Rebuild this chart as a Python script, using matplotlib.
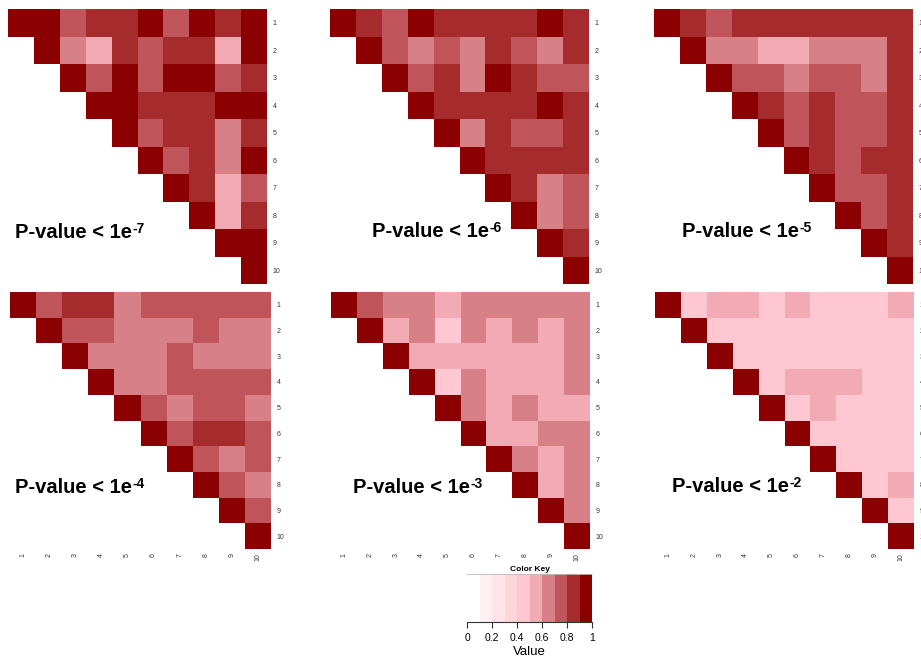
import numpy as np
import matplotlib
matplotlib.use('Agg')
import matplotlib.pyplot as plt
from matplotlib.colors import ListedColormap, BoundaryNorm

plt.rcParams['font.family'] = 'Liberation Sans'

W, H = 921, 658

# pairwise values, upper triangle, row i holds columns i..10
p7 = [[1.0, 0.95, 0.75, 0.85, 0.85, 0.95, 0.75, 0.95, 0.85, 0.95],
      [1.0, 0.65, 0.55, 0.85, 0.75, 0.85, 0.85, 0.55, 0.95],
      [1.0, 0.75, 0.95, 0.75, 0.95, 0.95, 0.75, 0.85],
      [1.0, 0.95, 0.85, 0.85, 0.85, 0.95, 0.95],
      [1.0, 0.75, 0.85, 0.85, 0.65, 0.85],
      [1.0, 0.75, 0.85, 0.65, 0.95],
      [1.0, 0.85, 0.55, 0.75],
      [1.0, 0.55, 0.85],
      [1.0, 0.95],
      [1.0]]

p6 = [[1.0, 0.85, 0.75, 0.95, 0.85, 0.85, 0.85, 0.85, 0.95, 0.85],
      [1.0, 0.75, 0.65, 0.75, 0.65, 0.85, 0.75, 0.65, 0.85],
      [1.0, 0.75, 0.85, 0.65, 0.95, 0.85, 0.75, 0.75],
      [1.0, 0.85, 0.85, 0.85, 0.85, 0.95, 0.85],
      [1.0, 0.65, 0.85, 0.75, 0.75, 0.85],
      [1.0, 0.85, 0.85, 0.85, 0.85],
      [1.0, 0.85, 0.65, 0.75],
      [1.0, 0.65, 0.75],
      [1.0, 0.85],
      [1.0]]

p5 = [[1.0, 0.85, 0.75, 0.85, 0.85, 0.85, 0.85, 0.85, 0.85, 0.85],
      [1.0, 0.65, 0.65, 0.55, 0.55, 0.65, 0.65, 0.65, 0.85],
      [1.0, 0.75, 0.75, 0.65, 0.75, 0.75, 0.65, 0.85],
      [1.0, 0.85, 0.75, 0.85, 0.75, 0.75, 0.85],
      [1.0, 0.75, 0.85, 0.75, 0.75, 0.85],
      [1.0, 0.85, 0.75, 0.85, 0.85],
      [1.0, 0.75, 0.75, 0.85],
      [1.0, 0.75, 0.85],
      [1.0, 0.85],
      [1.0]]

p4 = [[1.0, 0.75, 0.85, 0.85, 0.65, 0.75, 0.75, 0.75, 0.75, 0.75],
      [1.0, 0.75, 0.75, 0.65, 0.65, 0.65, 0.75, 0.65, 0.65],
      [1.0, 0.65, 0.65, 0.65, 0.75, 0.65, 0.65, 0.65],
      [1.0, 0.65, 0.65, 0.75, 0.75, 0.75, 0.75],
      [1.0, 0.75, 0.65, 0.75, 0.75, 0.65],
      [1.0, 0.75, 0.85, 0.85, 0.75],
      [1.0, 0.75, 0.65, 0.75],
      [1.0, 0.75, 0.65],
      [1.0, 0.75],
      [1.0]]

p3 = [[1.0, 0.75, 0.65, 0.65, 0.55, 0.65, 0.65, 0.65, 0.65, 0.65],
      [1.0, 0.55, 0.65, 0.45, 0.65, 0.55, 0.65, 0.55, 0.65],
      [1.0, 0.55, 0.55, 0.55, 0.55, 0.55, 0.55, 0.65],
      [1.0, 0.45, 0.65, 0.55, 0.55, 0.55, 0.65],
      [1.0, 0.65, 0.55, 0.65, 0.55, 0.55],
      [1.0, 0.55, 0.55, 0.65, 0.65],
      [1.0, 0.65, 0.55, 0.65],
      [1.0, 0.55, 0.65],
      [1.0, 0.65],
      [1.0]]

p2 = [[1.0, 0.45, 0.55, 0.55, 0.45, 0.55, 0.45, 0.45, 0.45, 0.55],
      [1.0, 0.45, 0.45, 0.45, 0.45, 0.45, 0.45, 0.45, 0.45],
      [1.0, 0.45, 0.45, 0.45, 0.45, 0.45, 0.45, 0.45],
      [1.0, 0.45, 0.55, 0.55, 0.55, 0.45, 0.45],
      [1.0, 0.45, 0.55, 0.45, 0.45, 0.45],
      [1.0, 0.45, 0.45, 0.45, 0.45],
      [1.0, 0.45, 0.45, 0.45],
      [1.0, 0.45, 0.55],
      [1.0, 0.45],
      [1.0]]

panels = [p7, p6, p5, p4, p3, p2]
exponents = ['-7', '-6', '-5', '-4', '-3', '-2']
labels = [str(i) for i in range(1, 11)]
key_ticks = [0, 0.2, 0.4, 0.6, 0.8, 1]

# white -> pink -> darkred in ten steps
colours = ['#FFFFFF', '#FFF1F3', '#FFE3E8', '#FFD5DC', '#FFC7D1',
           '#F2ABB4', '#D88087', '#BF555A', '#A52B2D', '#8B0000']
cmap = ListedColormap(colours)
bounds = np.linspace(0, 1, 11)
norm = BoundaryNorm(bounds, cmap.N)


def px_axes(fig, x0, y0, x1, y1):
    return fig.add_axes([x0 / W, 1 - y1 / H, (x1 - x0) / W, (y1 - y0) / H])


def to_matrix(rows):
    n = len(rows)
    m = np.full((n, n), np.nan)
    for i, r in enumerate(rows):
        m[i, i:] = r
    return np.ma.masked_invalid(m)


fig = plt.figure(figsize=(W / 100, H / 100), dpi=100)

# heatmap boxes in pixels: (left, top, right, bottom), text x, text baseline
boxes = [(8, 9, 267, 284, 15, 238), (330, 9, 589, 284, 372, 237),
         (654, 9, 913, 284, 682, 237),
         (10, 292, 271, 549, 15, 493), (331, 292, 590, 549, 353, 493),
         (655, 292, 914, 549, 672, 492)]

for k, (rows, ex, box) in enumerate(zip(panels, exponents, boxes)):
    x0, y0, x1, y1, tx, ty = box
    ax = px_axes(fig, x0, y0, x1, y1)
    ax.pcolormesh(np.arange(11), np.arange(11), to_matrix(rows),
                  cmap=cmap, norm=norm)
    ax.set_xlim(0, 10)
    ax.set_ylim(10, 0)
    for s in ax.spines.values():
        s.set_visible(False)
    ax.yaxis.tick_right()
    ax.set_yticks(np.arange(10) + 0.5)
    ax.set_yticklabels(labels, fontsize=5, color='#333333')
    ax.tick_params(axis='y', length=0, pad=4)
    if k >= 3:
        ax.set_xticks(np.arange(10) + 0.5)
        ax.set_xticklabels(labels, fontsize=5, rotation=90, color='#333333')
        ax.tick_params(axis='x', length=0, pad=3)
    else:
        ax.set_xticks([])
    t = fig.text(tx / W, 1 - ty / H, 'P-value < 1e', fontsize=14.5,
                 fontweight='bold', va='baseline', ha='left')
    # exponent as a small raised label right after the main text
    ax.annotate(ex, xy=(1.0, 1.0), xycoords=t, xytext=(0.5, 0.5),
                textcoords='offset points', fontsize=10, fontweight='bold',
                va='top', ha='left', annotation_clip=False)

# colour key
kax = px_axes(fig, 467, 574, 592, 622)
kax.pcolormesh(bounds, [0, 1], ((bounds[:-1] + bounds[1:]) / 2)[None, :],
               cmap=cmap, norm=norm)
kax.set_xlim(0, 1)
kax.set_ylim(0, 1)
kax.set_yticks([])
kax.set_xticks(key_ticks)
kax.set_xticklabels(['0', '0.2', '0.4', '0.6', '0.8', '1'], fontsize=7.5)
kax.tick_params(axis='x', length=4, width=0.8, pad=4, color='#333333')
for side in ['left', 'right']:
    kax.spines[side].set_visible(False)
kax.spines['top'].set_color('#bbbbbb')
kax.spines['top'].set_linewidth(0.6)
kax.spines['bottom'].set_color('#333333')
kax.set_xlabel('Value', fontsize=9.5, labelpad=2)
kax.set_title('Color Key', fontsize=6, fontweight='bold', pad=2)

fig.savefig('out.png', dpi=100)
